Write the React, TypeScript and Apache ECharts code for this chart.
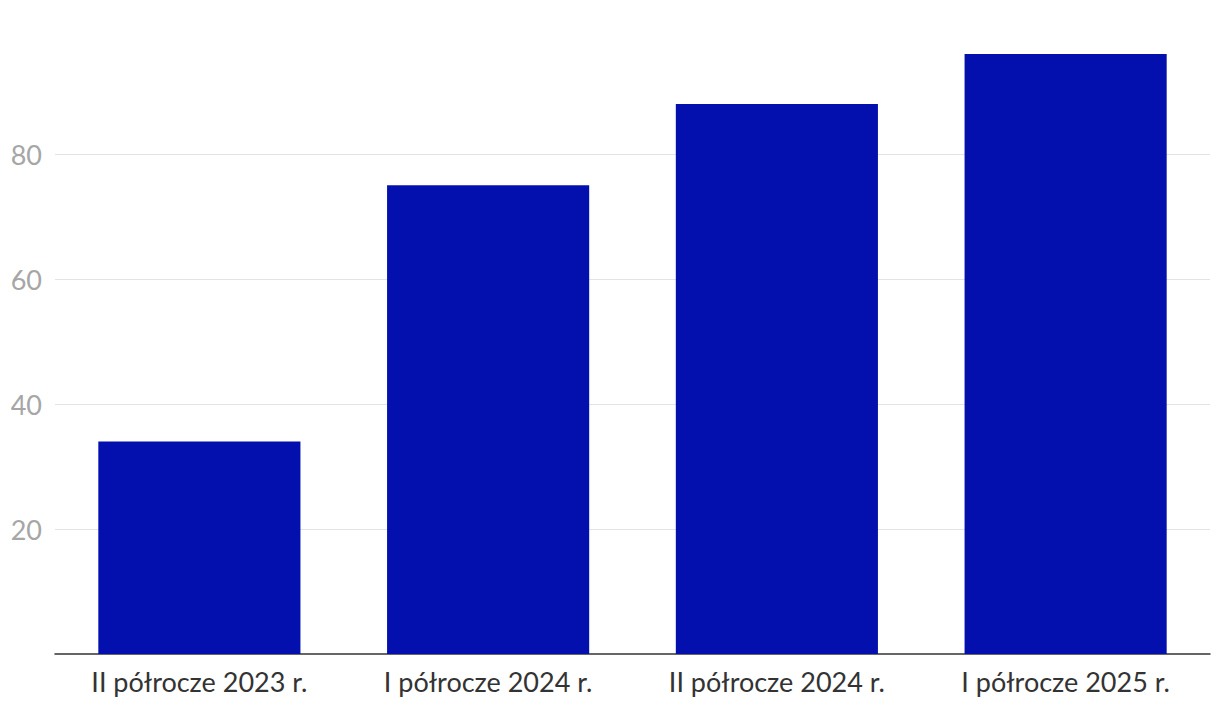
import React, { useEffect, useRef } from "react";
import * as echarts from "echarts";

const categories = ["II półrocze 2023 r.", "I półrocze 2024 r.", "II półrocze 2024 r.", "I półrocze 2025 r."];
const values = [34, 75, 88, 96];
const yTicks = [0, 20, 40, 60, 80, 100];

export default function App() {
  const ref = useRef<HTMLDivElement>(null);
  useEffect(() => {
    const chart = echarts.init(ref.current!, null, { renderer: "svg" });
    chart.setOption({
      animation: false,
      grid: { left: 55, right: 10, top: 29, bottom: 60, containLabel: false },
      xAxis: {
        type: "category",
        data: categories,
        axisTick: { show: false },
        axisLine: { lineStyle: { color: "#333333", width: 1.5 } },
        axisLabel: { color: "#333333", fontFamily: "Lato", fontSize: 27, margin: 14 },
      },
      yAxis: {
        type: "value",
        min: yTicks[0],
        max: yTicks[yTicks.length - 1],
        interval: 20,
        axisLine: { show: false },
        axisTick: { show: false },
        axisLabel: {
          color: "#a6a6a6",
          fontFamily: "Lato",
          fontSize: 27,
          margin: 13,
          formatter: (v: number) => (v === 0 || v === 100 ? "" : String(v)),
        },
        splitLine: {
          lineStyle: {
            color: yTicks.map((t) => (t === 0 || t === 100 ? "rgba(0,0,0,0)" : "#e3e3e3")),
            width: 1,
          },
        },
      },
      series: [
        {
          type: "bar",
          data: values,
          barWidth: "70%",
          itemStyle: { color: "#0410ae" },
        },
      ],
    });
    return () => chart.dispose();
  }, []);
  return <div ref={ref} style={{ position: "absolute", left: 0, top: 0, width: 1220, height: 714 }} />;
}
